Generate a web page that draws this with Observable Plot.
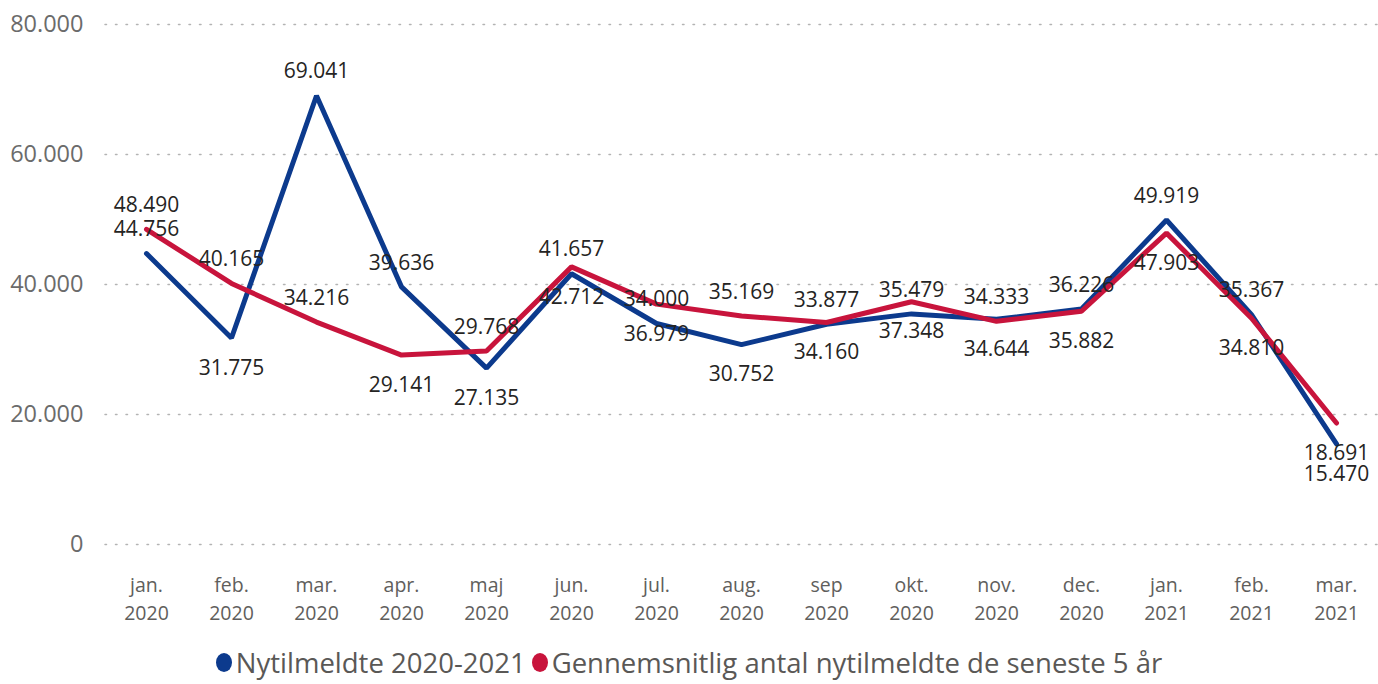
<!DOCTYPE html>
<html>
<head>
<meta charset="utf-8">
<script src="https://cdn.jsdelivr.net/npm/d3@7"></script>
<script src="https://cdn.jsdelivr.net/npm/@observablehq/plot@0.6"></script>
<style>
  html, body { margin: 0; padding: 0; background: #fff; }
  #chart svg { display: block; }
  .legend { display: flex; justify-content: center; align-items: center; height: 44px; font-family: "Open Sans", "Noto Sans", sans-serif; font-size: 27.5px; color: #5a5856; }
  .legend .item { display: flex; align-items: center; margin: 0 3px; }
  .legend .dot { width: 16px; height: 19px; border-radius: 50%; display: inline-block; margin-right: 4px; }
</style>
</head>
<body>
<div id="chart"></div>
<script>
const months = ["jan.\n2020","feb.\n2020","mar.\n2020","apr.\n2020","maj\n2020","jun.\n2020","jul.\n2020","aug.\n2020","sep\n2020","okt.\n2020","nov.\n2020","dec.\n2020","jan.\n2021","feb.\n2021","mar.\n2021"];
const nytilmeldte = [44756, 31775, 69041, 39636, 27135, 41657, 34000, 30752, 33877, 35479, 34644, 36226, 49919, 35367, 15470];
const gennemsnit = [48490, 40165, 34216, 29141, 29768, 42712, 36979, 35169, 34160, 37348, 34333, 35882, 47903, 34810, 18691];
const seriesNames = ["Nytilmeldte 2020-2021", "Gennemsnitlig antal nytilmeldte de seneste 5 år"];
const seriesColors = ["#0C3A8D", "#C8143C"];
const yTicks = [0, 20000, 40000, 60000, 80000];
// label side per point ("a" = above, "b" = below)
const nytilmeldteLabelSide = ["a","b","a","a","b","a","a","b","a","a","b","a","a","a","b"];
const gennemsnitLabelSide  = ["a","a","a","b","a","b","b","a","b","b","a","b","b","b","b"];

const fmt = d3.formatLocale({decimal: ",", thousands: ".", grouping: [3], currency: ["", ""]}).format(",");

const rows = [];
months.forEach((m, i) => {
  rows.push({month: m, value: nytilmeldte[i], series: seriesNames[0], side: nytilmeldteLabelSide[i]});
  rows.push({month: m, value: gennemsnit[i], series: seriesNames[1], side: gennemsnitLabelSide[i]});
});

const font = '"Open Sans", "Noto Sans", sans-serif';
const labelStyle = {fill: "#252423", fontSize: 21, fontFamily: font};

const plot = Plot.plot({
  width: 1378,
  height: 640,
  marginLeft: 105,
  marginRight: 0,
  marginTop: 24,
  marginBottom: 96,
  style: {fontFamily: font, background: "#fff"},
  x: {type: "point", domain: months, range: [140, 1341], padding: 0},
  y: {domain: [0, 80000]},
  color: {domain: seriesNames, range: seriesColors},
  marks: [
    Plot.ruleY(yTicks, {stroke: "#B3B3B3", strokeWidth: 1.5, strokeDasharray: "1.5,9", strokeLinecap: "round"}),
    Plot.axisY({ticks: yTicks, tickSize: 0, tickPadding: 22, tickFormat: fmt, fontSize: 23.5, fill: "#6b6b6b", label: null}),
    Plot.axisX({tickSize: 0, tickPadding: 27, fontSize: 19.5, fill: "#605E5C", lineHeight: 1.45, label: null}),
    Plot.line(rows, {x: "month", y: "value", z: "series", stroke: "series", strokeWidth: 5, strokeLinejoin: "miter", strokeLinecap: "round"}),
    Plot.text(rows.filter(d => d.side === "a"), {x: "month", y: "value", text: d => fmt(d.value), dy: -24, ...labelStyle}),
    Plot.text(rows.filter(d => d.side === "b"), {x: "month", y: "value", text: d => fmt(d.value), dy: 30, ...labelStyle})
  ]
});
document.getElementById("chart").appendChild(plot);

const legend = document.createElement("div");
legend.className = "legend";
seriesNames.forEach((name, i) => {
  const item = document.createElement("span");
  item.className = "item";
  const dot = document.createElement("span");
  dot.className = "dot";
  dot.style.background = seriesColors[i];
  item.appendChild(dot);
  item.appendChild(document.createTextNode(name));
  legend.appendChild(item);
});
document.getElementById("chart").appendChild(legend);
</script>
</body>
</html>
